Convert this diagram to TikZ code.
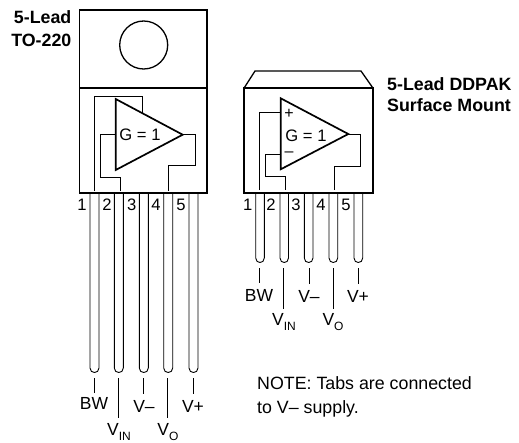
\documentclass[tikz,border=0pt]{standalone}
\usepackage{fontspec}
\setmainfont{Liberation Sans}
\tikzset{
  body/.style={draw=black,line width=1.9pt,line join=miter},
  wire/.style={draw=black,line width=0.8pt,line join=miter},
  pinline/.style={draw=black,line width=0.9pt},
  leader/.style={draw=black,line width=0.8pt},
  amp/.style={draw=black,line width=1.7pt,line join=miter},
  txt/.style={inner sep=0pt,font=\fontsize{16.6}{24}\selectfont},
  sign/.style={inner sep=0pt,font=\fontsize{16}{16}\selectfont},
  num/.style={txt,anchor=base},
  lab/.style={inner sep=0pt,anchor=base,font=\fontsize{17.5}{24}\selectfont},
  notetxt/.style={inner sep=0pt,font=\fontsize{17.8}{24}\selectfont},
  headL/.style={inner sep=0pt,font=\fontsize{17.8}{23}\bfseries\selectfont},
  headR/.style={inner sep=0pt,font=\fontsize{17.8}{21}\bfseries\selectfont},
}
\newcommand{\pinU}[4]{% left x, right x, top y, bottom y
  \draw[pinline] (#1,#3) -- (#1,#4-7) .. controls (#1,#4-1) and (#2,#4-1) .. (#2,#4-7) -- (#2,#3);}
\newcommand{\sbs}[1]{\raisebox{-5.3pt}{\fontsize{12}{13}\selectfont #1}}
\begin{document}
\begin{tikzpicture}[x=1pt,y=-1pt]
\useasboundingbox (0,0) rectangle (519,442);
% ---- left package
\pinU{90}{99}{193}{375}\pinU{114.3}{123.3}{193}{375}\pinU{139.3}{148.3}{193}{375}\pinU{163.7}{172.7}{193}{375}\pinU{189}{198}{193}{375}
\coordinate (LA) at (79.5,88); \coordinate (LB) at (207,88);
\draw[body] (79.5,10) rectangle (207,193);
\draw[body] (LA) -- (LB);
\node[draw=black,line width=1.3pt,circle,minimum size=48pt,inner sep=0pt] (hole) at (143.7,45) {};
\coordinate (a1) at (115.7,99); \coordinate (a2) at (115.7,170); \coordinate (a3) at (182.7,134.7);
\draw[wire] (94,191) -- (94,96) -- (142.7,96) -- (142.7,113);
\draw[wire] (a1|-a3) -- (100.7,134.7) -- (100.7,177.7) -- (120.7,177.7) -- (120.7,191);
\draw[wire] (a3) -- (195.3,134.7) -- (195.3,165.7) -- (168.3,165.7) -- (168.3,191);
\draw[amp] (a1) -- (a2) -- (a3) -- cycle;
\node[txt] (Lg) at (140,135) {G = 1};
\foreach \n/\t/\x in {ln1/1/82,ln2/2/107,ln3/3/131.7,ln4/4/156,ln5/5/181}
  \node[num] (\n) at (\x,210) {\t};
\node[lab] (LBW) at (94,409) {BW};
\node[lab] (LVI) at (119,435) {V\sbs{IN}};
\node[lab] (LVm) at (144,412) {V–};
\node[lab] (LVO) at (168,435) {V\sbs{O}};
\node[lab] (LVp) at (193,412) {V+};
\draw[leader] (94.5,378) -- (94.5,393);
\draw[leader] (118.7,378) -- (118.7,418);
\draw[leader] (143.7,378) -- (143.7,394);
\draw[leader] (167.7,378) -- (167.7,418);
\draw[leader] (193.5,378) -- (193.5,394);
\node[headL,align=right,anchor=east] (Lh) at (71.5,28.5) {5-Lead\\TO-220};
% ---- right package
\pinU{255.7}{264.3}{193}{265}\pinU{280}{288.5}{193}{265}\pinU{304.3}{313}{193}{265}\pinU{329}{337.7}{193}{265}\pinU{354}{362.7}{193}{265}
\draw[body] (244.3,87.7) rectangle (372.7,192.7);
\draw[line width=1.3pt,line join=miter] (244.3,87.7) -- (255,71) -- (361,71) -- (372.7,87.7);
\coordinate (b1) at (280.7,98.3); \coordinate (b2) at (280.7,169.3); \coordinate (b3) at (348.3,134);
\draw[wire] (259.3,190) -- (259.3,112.7) -- (280.7,112.7);
\draw[wire] (280.7,154) -- (265.7,154) -- (265.7,176.7) -- (285.7,176.7) -- (285.7,190);
\draw[wire] (b3) -- (360,134) -- (360,166) -- (334,166) -- (334,190);
\draw[amp] (b1) -- (b2) -- (b3) -- cycle;
\node[txt] (Rg) at (306,136) {G = 1};
\node[sign] (Rp) at (289,114) {+};
\node[sign] (Rm) at (289,154) {–};
\foreach \n/\t/\x in {rn1/1/247.7,rn2/2/271,rn3/3/296,rn4/4/321,rn5/5/346}
  \node[num] (\n) at (\x,210) {\t};
\node[lab] (RBW) at (259,301) {BW};
\node[lab] (RVI) at (284,325) {V\sbs{IN}};
\node[lab] (RVm) at (309,302) {V–};
\node[lab] (RVO) at (333,325) {V\sbs{O}};
\node[lab] (RVp) at (358,302) {V+};
\draw[leader] (259.5,268) -- (259.5,283);
\draw[leader] (283.7,268) -- (283.7,309);
\draw[leader] (309,268) -- (309,284);
\draw[leader] (333,268) -- (333,309);
\draw[leader] (358.3,268) -- (358.3,284);
\node[headR,align=left,anchor=west] (Rh) at (387,95) {5-Lead DDPAK\\Surface Mount};
\node[notetxt,align=left,anchor=west] (note) at (257,397) {NOTE: Tabs are connected\\to V– supply.};
\end{tikzpicture}
\end{document}
